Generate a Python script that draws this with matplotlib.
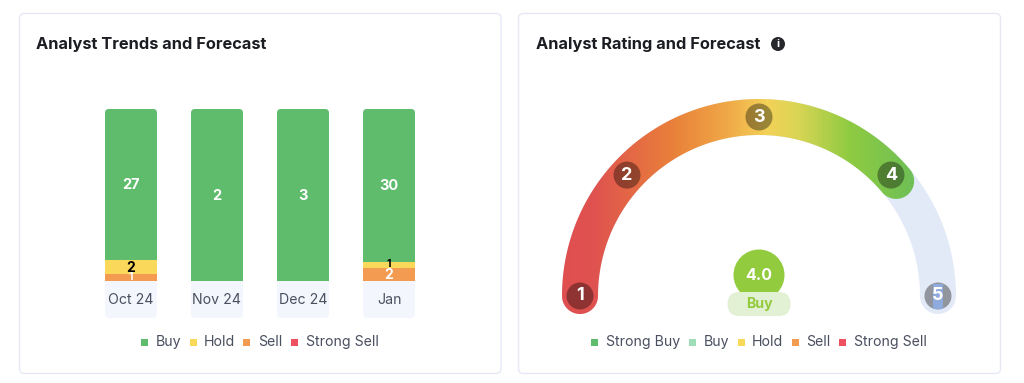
import numpy as np
import matplotlib
matplotlib.use('Agg')
import matplotlib.pyplot as plt
from matplotlib.colors import LinearSegmentedColormap
from matplotlib.patches import Circle, FancyBboxPatch, Rectangle

plt.rcParams['font.family'] = ['Inter', 'DejaVu Sans']

# Left chart: bar heights are not proportional to the printed counts in the source
months = ['Oct 24', 'Nov 24', 'Dec 24', 'Jan']
buy_height = [151, 172, 172, 153]
hold_height = [14, 0, 0, 6]
sell_height = [7, 0, 0, 13]
buy_labels = ['27', '2', '3', '30']
hold_labels = ['2', '', '', '1']
sell_labels = ['1', '', '', '2']
trend_legend = ['Buy', 'Hold', 'Sell', 'Strong Sell']

# Right chart
score = 4.0
score_label = 'Buy'
scale_ticks = [1, 2, 3, 4, 5]
rating_legend = ['Strong Buy', 'Buy', 'Hold', 'Sell', 'Strong Sell']

GREEN = '#60BC6D'
YELLOW = '#FAD85A'
ORANGE = '#F49B52'
RED = '#EF5060'
MINT = '#9FDDB8'
LIME = '#93CB3F'
TEXT = '#4A5060'
W, H = 1024, 383


def px_axes(fig, left, right, top, bottom):
    ax = fig.add_axes([left / W, 1 - bottom / H, (right - left) / W, (bottom - top) / H])
    ax.axis('off')
    return ax


fig = plt.figure(figsize=(W / 100, H / 100), dpi=100, facecolor='white')

# Page layer in pixel coordinates: cards, titles, legends
bg = px_axes(fig, 0, W, 0, H)
bg.set_xlim(0, W)
bg.set_ylim(H, 0)
for x0, x1 in [(19.5, 501), (518.5, 1000.5)]:
    bg.add_patch(FancyBboxPatch((x0, 13.5), x1 - x0, 360, boxstyle='round,pad=0,rounding_size=5',
                                fc='white', ec='#E6E9F5', lw=1))
bg.text(36.5, 44, 'Analyst Trends and Forecast', fontsize=11.8, fontweight='bold',
        color='#1B1D22', va='center')
bg.text(535.5, 44, 'Analyst Rating and Forecast', fontsize=11.8, fontweight='bold',
        color='#1B1D22', va='center')
bg.add_patch(Circle((778, 44), 7, fc='#26282C', ec='none'))
bg.text(778, 44, 'i', fontsize=8, fontweight='bold', color='white', ha='center', va='center')


def legend(labels, colors, square_x, text_x):
    for label, color, sx, tx in zip(labels, colors, square_x, text_x):
        bg.add_patch(Rectangle((sx, 339), 6.5, 6.5, fc=color, ec='none'))
        bg.text(tx, 342, label, fontsize=10.2, color=TEXT, va='center')


legend(trend_legend, [GREEN, YELLOW, ORANGE, RED], [141, 190, 243, 291], [156, 204, 258, 306])
legend(rating_legend, [GREEN, MINT, YELLOW, ORANGE, RED],
       [591, 689, 738, 792, 839], [606, 704, 752, 806, 854])

# Stacked bars: one x unit is 86 px, one y unit is 1 px
ax = px_axes(fig, 88, 432, 105, 320)
ax.set_xlim(-0.5, 3.5)
ax.set_ylim(-39, 176)
bar_w = 52 / 86
tile_h = 37
for i, month in enumerate(months):
    tile = FancyBboxPatch((i - bar_w / 2, -tile_h), bar_w, buy_height[i] + hold_height[i] + sell_height[i] + tile_h,
                          boxstyle=f'round,pad=0,rounding_size={4 / 86}', mutation_aspect=86,
                          fc='#F3F7FD', ec='none')
    ax.add_patch(tile)
    bottom = 0
    for h, color, text, tcolor in [(sell_height[i], ORANGE, sell_labels[i], 'white'),
                                   (hold_height[i], YELLOW, hold_labels[i], 'black'),
                                   (buy_height[i], GREEN, buy_labels[i], 'white')]:
        if h == 0:
            continue
        bar = ax.bar(i, h, bar_w, bottom=bottom, color=color, lw=0)[0]
        bar.set_clip_path(tile)
        # thin segments get a smaller digit so neighbours do not collide
        thick = h > 10
        ax.text(i, bottom + h / 2 + (-0.7 if thick else 0.6), text, color=tcolor,
                fontsize=10.5 if h > 20 else (10 if thick else 7.5),
                fontweight='bold', ha='center', va='center')
        bottom += h
    ax.text(i, -19, month, fontsize=10.2, color=TEXT, ha='center', va='center')

# Gauge: data units are pixels around the arc centre
g = px_axes(fig, 555, 965, 90, 325)
g.set_xlim(-204, 206)
g.set_ylim(-29, 206)
radius = 179
half = 18
tick_angles = [180, 137.5, 90, 42.5, 0]
progress_end = 40


def band_outline(t0, t1):
    arc = np.radians(np.linspace(t0, t1, 200))
    cap = np.radians(np.linspace(0, -180, 40))
    t0r, t1r = np.radians(t0), np.radians(t1)
    pts = [np.c_[(radius + half) * np.cos(arc), (radius + half) * np.sin(arc)],
           np.c_[radius * np.cos(t1r) + half * np.cos(t1r + cap), radius * np.sin(t1r) + half * np.sin(t1r + cap)],
           np.c_[(radius - half) * np.cos(arc[::-1]), (radius - half) * np.sin(arc[::-1])],
           np.c_[radius * np.cos(t0r) + half * np.cos(t0r + np.pi + cap), radius * np.sin(t0r) + half * np.sin(t0r + np.pi + cap)]]
    return np.vstack(pts)


g.fill(*band_outline(tick_angles[0], tick_angles[-1]).T, color='#E3EAF7', lw=0)
cmap = LinearSegmentedColormap.from_list('gauge', [(0, '#DF4F4F'), (0.08, '#DF5250'), (0.28, '#E9803A'),
                                                    (0.42, '#F0A847'), (0.52, '#F3D258'), (0.6, '#D9D555'),
                                                    (0.73, '#8FCB41'), (0.9, '#6DBF58'), (1, '#6DBF58')])
progress = g.fill(*band_outline(tick_angles[0], progress_end).T, color='none', lw=0)[0]
grad = g.imshow(np.linspace(0, 1, 400)[None, :], cmap=cmap, aspect='auto', vmin=0, vmax=1,
                extent=(-198, 198, -20, 200), zorder=2)
grad.set_clip_path(progress)
g.set_xlim(-204, 206)
g.set_ylim(-29, 206)

for tick, angle in zip(scale_ticks, tick_angles):
    t = np.radians(angle)
    cx, cy = radius * np.cos(t), radius * np.sin(t)
    g.add_patch(Circle((cx, cy), 13.5, fc='black', alpha=0.36, ec='none', zorder=5))
    if tick == 5:
        g.add_patch(Rectangle((cx - 5, cy - 12.5), 10, 25, fc='#8FAADD', ec='none', zorder=5.5))
    g.text(cx, cy, str(tick), color='white', fontsize=13, fontweight='bold', ha='center', va='center', zorder=6)

g.add_patch(Circle((0, 21), 25.5, fc=LIME, ec='none', zorder=3))
g.text(0, 21, f'{score:.1f}', color='white', fontsize=11.5, fontweight='bold', ha='center', va='center', zorder=6)
g.add_patch(FancyBboxPatch((-31.5, -20), 63, 24, boxstyle='round,pad=0,rounding_size=12',
                           fc='#E2F0D4', ec='none', zorder=4))
g.text(0, -8, score_label, color=LIME, fontsize=10.2, fontweight='bold', ha='center', va='center', zorder=6)

fig.savefig('out.png', dpi=100)
